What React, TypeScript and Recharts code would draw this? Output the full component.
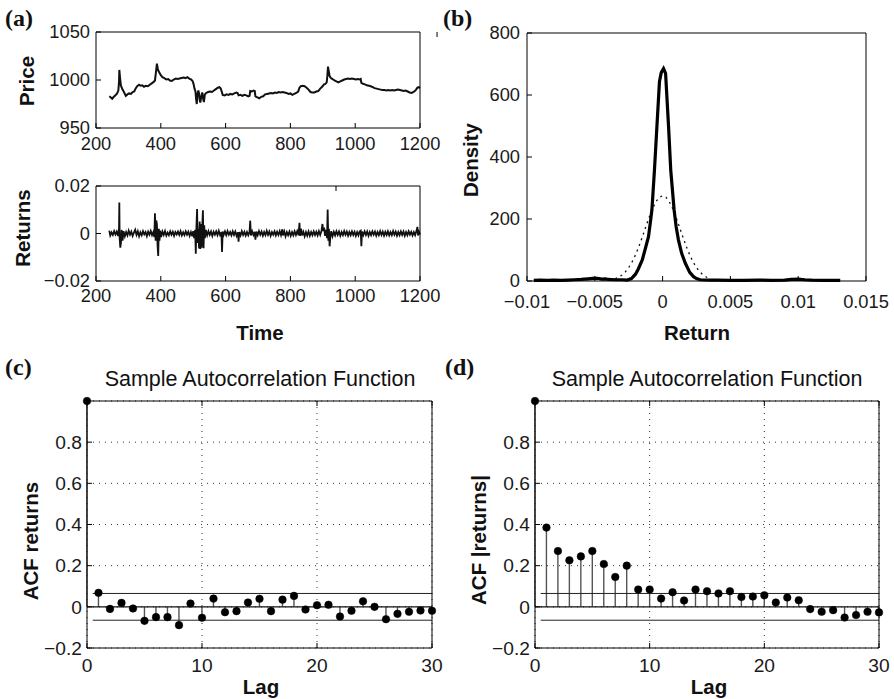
import React from 'react';
import { ComposedChart, Line, Bar, XAxis, YAxis, CartesianGrid, ReferenceLine } from 'recharts';

const FONT = '"Liberation Sans", Arial, Helvetica, sans-serif';
const SERIF = '"Liberation Serif", "Times New Roman", serif';

// ---------- data ----------
const timeTicks = [200, 400, 600, 800, 1000, 1200];
const priceTicks = [950, 1000, 1050];
const returnTicks = [-0.02, 0, 0.02];
const densityXTicks = [-0.01, -0.005, 0, 0.005, 0.01, 0.015];
const densityYTicks = [0, 200, 400, 600, 800];
const lagTicks = [0, 10, 20, 30];
const acfTicks = [-0.2, 0, 0.2, 0.4, 0.6, 0.8];

const priceSeries: [number, number][] = [
  [241, 983], [245, 982], [250, 980.5], [255, 982.5], [260, 984], [265, 986], [269, 989], [271, 998], [272, 1010.5],
  [274, 1003], [277, 994], [282, 990], [287, 987], [292, 983.5], [297, 985], [302, 986], [308, 985.5], [313, 987.5],
  [318, 988], [322, 991], [327, 993.5], [333, 995], [338, 994], [343, 994.5], [348, 993], [354, 994], [360, 993.5],
  [366, 995], [372, 996.5], [378, 998], [382, 999.5], [385, 1008], [388, 1017], [391, 1011], [395, 1008], [400, 1005],
  [405, 1003], [411, 1002], [417, 1000.5], [423, 1001], [428, 999.5], [434, 999], [440, 1000.5], [446, 1001.5],
  [452, 1001], [458, 1001.5], [464, 1002], [470, 1002.5], [476, 1002], [482, 1003], [488, 1001.5], [494, 1000.5],
  [498, 999], [501, 996], [504, 991], [507, 988], [509, 980], [511, 975], [513, 985], [516, 989], [518, 986],
  [520, 979], [522, 976.5], [525, 983], [528, 987], [531, 980], [533, 977], [536, 985], [540, 986.5], [546, 987.5],
  [552, 988], [558, 987.5], [564, 989], [570, 990.5], [576, 992], [581, 992.5], [585, 991], [588, 988], [591, 984.5],
  [597, 984], [603, 985], [609, 984.5], [615, 985.5], [621, 985], [627, 986], [633, 987], [637, 986.5], [640, 984],
  [646, 984.5], [652, 983.5], [658, 984.5], [664, 984], [670, 983], [674, 983.5], [676, 988.5], [681, 988], [686, 989],
  [690, 988.5], [692, 983], [698, 982], [704, 981], [710, 982.5], [716, 983], [722, 985], [728, 985.5], [734, 986],
  [740, 986.5], [746, 986], [752, 987], [758, 986.5], [764, 987.5], [770, 987], [776, 987.5], [782, 987], [788, 986.5],
  [794, 985.5], [800, 986], [806, 984.5], [812, 985.5], [818, 986.5], [824, 988], [828, 992], [832, 993.5], [838, 994],
  [844, 993.5], [850, 992], [856, 990], [862, 987.5], [868, 987], [874, 987], [880, 988], [886, 988.5], [892, 991],
  [898, 993], [904, 995.5], [908, 996], [912, 997.5], [914, 1004], [916, 1014], [918, 1010], [921, 1004], [925, 1002],
  [930, 1001], [936, 999.5], [942, 998.5], [948, 997.5], [954, 998.5], [960, 999.5], [966, 1000.5], [972, 1001],
  [978, 1001.5], [984, 1001], [990, 1001.5], [996, 1001], [1002, 1000.5], [1008, 1001], [1014, 1000.5], [1017, 1001],
  [1019, 997], [1024, 996], [1030, 995.5], [1036, 994.5], [1042, 994], [1048, 993.5], [1054, 992.5], [1060, 991.5],
  [1066, 991], [1072, 990.5], [1078, 990], [1084, 989.5], [1090, 989.5], [1096, 989], [1102, 989.5], [1108, 989],
  [1114, 989.5], [1120, 989], [1126, 989.5], [1132, 990], [1138, 989.5], [1144, 989], [1150, 988.5], [1156, 989],
  [1162, 988], [1168, 987], [1174, 986.5], [1180, 987.5], [1184, 988.5], [1188, 990], [1192, 992], [1196, 992.5],
  [1200, 991.5],
];

const returnSeries: [number, number][] = [
  [241, 0.0012], [244, -0.0008], [248, 0.0005], [252, -0.0006], [256, 0.001], [260, -0.0004], [264, 0.0008],
  [268, -0.001], [271, 0.002], [272, 0.013], [273, -0.002], [275, -0.006], [277, -0.004], [279, 0.0015], [282, -0.003],
  [285, 0.001], [289, -0.0012], [293, 0.0006], [297, -0.0008], [301, 0.0012], [305, -0.0005], [309, 0.0008],
  [313, -0.001], [317, 0.0004], [321, 0.0016], [325, -0.0006], [329, 0.0009], [333, -0.0012], [337, 0.0005],
  [341, -0.0007], [345, 0.001], [349, -0.0004], [353, 0.0006], [357, -0.0011], [361, 0.0008], [365, -0.0005],
  [369, 0.0011], [373, -0.0007], [377, 0.0006], [380, -0.0015], [382, 0.0085], [384, -0.003], [386, 0.0055],
  [388, 0.004], [390, -0.005], [392, -0.0095], [394, 0.002], [396, -0.003], [398, 0.0012], [401, -0.0015],
  [405, 0.0008], [409, -0.0006], [413, 0.001], [417, -0.0009], [421, 0.0004], [425, -0.0007], [429, 0.0009],
  [433, -0.0005], [437, 0.0007], [441, -0.001], [445, 0.0006], [449, -0.0004], [453, 0.0008], [457, -0.0006],
  [461, 0.001], [465, -0.0008], [469, 0.0005], [473, -0.0007], [477, 0.0009], [481, -0.0005], [485, 0.0007],
  [489, -0.001], [493, 0.0006], [497, -0.0012], [500, 0.001], [503, -0.002], [506, 0.0015], [508, -0.0085],
  [510, 0.003], [512, 0.0103], [514, -0.004], [516, 0.002], [518, -0.0063], [520, 0.005], [522, -0.0065],
  [524, 0.004], [526, -0.006], [528, 0.003], [530, 0.0098], [532, -0.0062], [534, 0.0035], [536, -0.002],
  [539, 0.0015], [543, -0.0008], [547, 0.001], [551, -0.0006], [555, 0.0008], [559, -0.001], [563, 0.0007],
  [567, -0.0005], [571, 0.0009], [575, -0.0007], [579, 0.0011], [583, -0.0006], [587, 0.0006], [589, -0.0078],
  [591, 0.0008], [594, -0.0006], [598, 0.0009], [602, -0.0007], [606, 0.001], [610, -0.0005], [614, 0.0006],
  [618, -0.0008], [622, 0.0009], [626, -0.0006], [630, 0.0008], [634, -0.001], [638, 0.0005], [640, -0.0035],
  [642, 0.0006], [646, -0.0008], [650, 0.001], [654, -0.0006], [658, 0.0007], [662, -0.0009], [666, 0.0006],
  [670, -0.0007], [674, 0.0008], [676, 0.0054], [678, -0.0008], [682, 0.0009], [686, -0.0006], [690, 0.0007],
  [692, -0.0026], [695, 0.0008], [699, -0.0007], [703, 0.001], [707, -0.0005], [711, 0.0008], [715, -0.0009],
  [719, 0.0006], [723, -0.0007], [727, 0.0011], [731, -0.0006], [735, 0.0008], [739, -0.001], [743, 0.0006],
  [747, -0.0005], [751, 0.0009], [755, -0.0008], [759, 0.0007], [763, -0.0006], [767, 0.001], [771, -0.0007],
  [775, 0.0018], [777, -0.0008], [781, 0.0009], [785, -0.0012], [789, 0.0006], [793, -0.0007], [797, 0.0008],
  [801, -0.001], [805, 0.0006], [809, -0.0008], [813, 0.0009], [817, -0.0006], [821, 0.001], [825, -0.0007],
  [828, 0.0045], [830, -0.001], [833, 0.002], [836, -0.0008], [840, 0.0007], [844, -0.0012], [848, 0.0006],
  [852, -0.0009], [856, 0.0008], [860, -0.001], [864, 0.0006], [868, -0.0007], [872, 0.0009], [876, -0.0006],
  [880, 0.0007], [884, -0.0008], [888, 0.001], [892, -0.0006], [896, 0.0012], [899, 0.004], [901, 0.001],
  [904, 0.0025], [907, -0.001], [910, 0.0015], [913, -0.002], [915, 0.0101], [917, -0.003], [919, 0.002],
  [921, -0.0054], [923, -0.002], [926, 0.001], [930, -0.0012], [934, 0.0007], [938, -0.0008], [942, 0.0009],
  [946, -0.0006], [950, 0.0008], [954, -0.001], [958, 0.0006], [962, -0.0007], [966, 0.001], [970, -0.0005],
  [974, 0.0008], [978, -0.0009], [982, 0.0006], [986, -0.0007], [990, 0.0009], [994, -0.0006], [998, 0.0007],
  [1002, -0.001], [1006, 0.0006], [1010, -0.0008], [1014, 0.0009], [1017, 0.0012], [1019, -0.0054], [1021, 0.0008],
  [1025, -0.0007], [1029, 0.0009], [1033, -0.0006], [1037, 0.0008], [1041, -0.001], [1045, 0.0006], [1049, -0.0007],
  [1053, 0.0009], [1057, -0.0005], [1061, 0.0008], [1065, -0.0009], [1069, 0.0006], [1073, -0.0007], [1077, 0.001],
  [1081, -0.0006], [1085, 0.0008], [1089, -0.0009], [1093, 0.0007], [1097, -0.0006], [1101, 0.0009], [1105, -0.0008],
  [1109, 0.0006], [1113, -0.0007], [1117, 0.001], [1121, -0.0005], [1125, 0.0008], [1129, -0.0009], [1133, 0.0006],
  [1137, -0.0007], [1141, 0.0009], [1145, -0.0006], [1149, 0.0008], [1153, -0.001], [1157, 0.0006], [1161, -0.0007],
  [1165, 0.0009], [1169, -0.0005], [1173, 0.0007], [1177, -0.0008], [1181, 0.0006], [1185, -0.0007], [1189, 0.001],
  [1192, 0.0028], [1194, -0.0008], [1197, 0.0007], [1200, -0.0004],
];

const densityKernel: [number, number][] = [
  [-0.0095, 2], [-0.009, 3], [-0.0085, 2], [-0.008, 3], [-0.0075, 2], [-0.007, 3], [-0.0065, 4], [-0.006, 5],
  [-0.0055, 7], [-0.005, 9], [-0.0047, 8], [-0.0045, 6], [-0.0042, 7], [-0.004, 5], [-0.0035, 4], [-0.003, 4],
  [-0.0026, 3], [-0.0023, 8], [-0.002, 22], [-0.0018, 38], [-0.0015, 68], [-0.0013, 100], [-0.00104, 143],
  [-0.0009, 190], [-0.00079, 229], [-0.0006, 358], [-0.00042, 498], [-0.00023, 644], [-0.0001, 672], [0.00007, 685],
  [0.00022, 670], [0.00044, 498], [0.0006, 358], [0.00085, 229], [0.001, 175], [0.00117, 132], [0.0014, 90],
  [0.00167, 58], [0.002, 28], [0.00228, 14], [0.0025, 8], [0.00277, 4], [0.0035, 3], [0.004, 3], [0.005, 2],
  [0.006, 2], [0.007, 3], [0.008, 2], [0.009, 3], [0.0095, 5], [0.01, 6], [0.0105, 4], [0.011, 3], [0.012, 2],
  [0.0131, 2],
];

const densityNormal: [number, number][] = [
  [-0.0035, 7.3], [-0.00325, 12.1], [-0.003, 19.2], [-0.00275, 29.3], [-0.0025, 43.3], [-0.00225, 61.5],
  [-0.002, 84.2], [-0.00175, 111.1], [-0.0015, 141.3], [-0.00125, 173.2], [-0.001, 204.6], [-0.00075, 232.8],
  [-0.0005, 255.4], [-0.00025, 270], [0, 275], [0.00025, 270], [0.0005, 255.4], [0.00075, 232.8], [0.001, 204.6],
  [0.00125, 173.2], [0.0015, 141.3], [0.00175, 111.1], [0.002, 84.2], [0.00225, 61.5], [0.0025, 43.3],
  [0.00275, 29.3], [0.003, 19.2], [0.00325, 12.1], [0.0035, 7.3],
];

const acfLags = [0, 1, 2, 3, 4, 5, 6, 7, 8, 9, 10, 11, 12, 13, 14, 15, 16, 17, 18, 19, 20, 21, 22, 23, 24, 25, 26, 27, 28, 29, 30];
const acfReturns = [1, 0.068, -0.01, 0.019, -0.008, -0.068, -0.05, -0.05, -0.089, 0.016, -0.053, 0.04, -0.026, -0.021,
  0.021, 0.039, -0.021, 0.035, 0.053, -0.013, 0.008, 0.01, -0.047, -0.019, 0.027, 0, -0.06, -0.034, -0.024, -0.018, -0.019];
const acfAbsReturns = [1, 0.385, 0.271, 0.226, 0.245, 0.271, 0.208, 0.145, 0.2, 0.084, 0.084, 0.04, 0.071, 0.031,
  0.084, 0.076, 0.065, 0.076, 0.048, 0.05, 0.056, 0.021, 0.045, 0.032, -0.011, -0.024, -0.016, -0.052, -0.04, -0.024, -0.027];
const acfBound = 0.065;

// ---------- tables ----------
const priceData = priceSeries.map(([t, v]) => ({ t, v }));
const returnData = returnSeries.map(([t, v]) => ({ t, v }));
const kernelData = densityKernel.map(([x, y]) => ({ x, y }));
const normalData = densityNormal.map(([x, y]) => ({ x, y }));
const acfRetData = acfLags.map((lag, i) => ({ lag, v: acfReturns[i] }));
const acfAbsData = acfLags.map((lag, i) => ({ lag, v: acfAbsReturns[i] }));

// ---------- helpers ----------
const fmt = (v: number) => (v < 0 ? '\u2212' + String(-v) : String(v));
const NoTick = () => <g />;

const PAD = { left: 72, top: 12, right: 28, bottom: 40 };
type Box = { l: number; t: number; r: number; b: number };

function frame(box: Box) {
  const width = box.r - box.l + PAD.left + PAD.right;
  const height = box.b - box.t + PAD.top + PAD.bottom;
  return {
    style: { position: 'absolute' as const, left: box.l - PAD.left, top: box.t - PAD.top, width, height },
    width,
    height,
    margin: { top: PAD.top, right: PAD.right, bottom: 0, left: 0 },
  };
}

type AxOpts = {
  xKey: string;
  xDomain: [number, number];
  xTicks: number[];
  yDomain: [number, number];
  yTicks: number[];
  fontSize: number;
  xGap: number;
  yGap: number;
  tickLen: number;
};

function boxAxes(o: AxOpts) {
  const tickStyle = { fontSize: o.fontSize, fill: '#1a1a1a', fontFamily: FONT };
  const line = { stroke: '#000', strokeWidth: 1 };
  return [
    <XAxis key="xb" xAxisId="b" dataKey={o.xKey} type="number" domain={o.xDomain} ticks={o.xTicks} interval={0}
      tick={tickStyle} tickFormatter={fmt} tickSize={-o.tickLen} tickMargin={o.tickLen + o.xGap}
      height={PAD.bottom} axisLine={line} tickLine={line} />,
    <XAxis key="xt" xAxisId="t" orientation="top" mirror type="number" domain={o.xDomain} ticks={o.xTicks}
      interval={0} tick={NoTick} tickSize={o.tickLen} axisLine={line} tickLine={line} />,
    <YAxis key="yl" yAxisId="l" type="number" domain={o.yDomain} ticks={o.yTicks} interval={0}
      tick={tickStyle} tickFormatter={fmt} tickSize={-o.tickLen} tickMargin={o.tickLen + o.yGap}
      width={PAD.left} axisLine={line} tickLine={line} />,
    <YAxis key="yr" yAxisId="r" orientation="right" mirror type="number" domain={o.yDomain} ticks={o.yTicks}
      interval={0} tick={NoTick} tickSize={o.tickLen} axisLine={line} tickLine={line} />,
  ];
}

const boxPriceTop: Box = { l: 96, t: 32, r: 420, b: 128 };
const boxReturns: Box = { l: 96, t: 186, r: 420, b: 281 };
const boxDensity: Box = { l: 527, t: 33, r: 866, b: 281 };
const boxAcf1: Box = { l: 87, t: 401, r: 432, b: 648 };
const boxAcf2: Box = { l: 535, t: 401, r: 879, b: 648 };

function AcfChart({ box, data }: { box: Box; data: { lag: number; v: number }[] }) {
  const f = frame(box);
  return (
    <div style={f.style}>
      <ComposedChart width={f.width} height={f.height} margin={f.margin} data={data}>
        <CartesianGrid xAxisId="b" yAxisId="l" stroke="#333" strokeDasharray="1 5" strokeWidth={1} />
        {boxAxes({ xKey: 'lag', xDomain: [0, 30], xTicks: lagTicks, yDomain: [-0.2, 1], yTicks: acfTicks,
          fontSize: 19.2, xGap: 10, yGap: 5, tickLen: 5 })}
        <ReferenceLine xAxisId="b" yAxisId="l" y={0} stroke="#111" strokeWidth={1.2} />
        <ReferenceLine xAxisId="b" yAxisId="l" segment={[{ x: 0.5, y: acfBound }, { x: 30, y: acfBound }]} stroke="#222" strokeWidth={1} />
        <ReferenceLine xAxisId="b" yAxisId="l" segment={[{ x: 0.5, y: -acfBound }, { x: 30, y: -acfBound }]} stroke="#222" strokeWidth={1} />
        <Bar xAxisId="b" yAxisId="l" dataKey="v" barSize={1.4} fill="#555" isAnimationActive={false} />
        <Line xAxisId="b" yAxisId="l" dataKey="v" stroke="none" strokeWidth={0}
          dot={{ r: 3.8, fill: '#000', stroke: '#000', strokeWidth: 0.5 }} activeDot={false} isAnimationActive={false} />
      </ComposedChart>
    </div>
  );
}

type Txt = { text: string; x: number; y: number; size: number; bold?: boolean; serif?: boolean; rotate?: boolean; anchor?: 'start' | 'middle' };
const texts: Txt[] = [
  { text: '(a)', x: 5, y: 26, size: 24, bold: true, serif: true, anchor: 'start' },
  { text: '(b)', x: 443, y: 26, size: 24, bold: true, serif: true, anchor: 'start' },
  { text: '(c)', x: 5, y: 375, size: 24, bold: true, serif: true, anchor: 'start' },
  { text: '(d)', x: 445, y: 375, size: 24, bold: true, serif: true, anchor: 'start' },
  { text: 'Price', x: 26, y: 81, size: 20.5, bold: true, rotate: true },
  { text: 'Returns', x: 22, y: 228, size: 20.5, bold: true, rotate: true },
  { text: 'Time', x: 260, y: 332, size: 20.5, bold: true },
  { text: 'Density', x: 470, y: 160, size: 20.5, bold: true, rotate: true },
  { text: 'Return', x: 697, y: 332, size: 20.5, bold: true },
  { text: 'ACF returns', x: 30, y: 541, size: 20.5, bold: true, rotate: true },
  { text: 'ACF |returns|', x: 478, y: 540, size: 20.5, bold: true, rotate: true },
  { text: 'Lag', x: 261, y: 686, size: 20.5, bold: true },
  { text: 'Lag', x: 709, y: 686, size: 20.5, bold: true },
  { text: 'Sample Autocorrelation Function', x: 260, y: 379, size: 21.5 },
  { text: 'Sample Autocorrelation Function', x: 707, y: 379, size: 21.5 },
];

export default function App() {
  const fp = frame(boxPriceTop);
  const fr = frame(boxReturns);
  const fd = frame(boxDensity);
  return (
    <div style={{ position: 'absolute', left: 0, top: 0, width: 894, height: 699, background: '#fff', fontFamily: FONT }}>
      <div style={fp.style}>
        <ComposedChart width={fp.width} height={fp.height} margin={fp.margin} data={priceData}>
          {boxAxes({ xKey: 't', xDomain: [200, 1200], xTicks: timeTicks, yDomain: [950, 1050], yTicks: priceTicks,
            fontSize: 18.3, xGap: 9, yGap: 6, tickLen: 5 })}
          <Line xAxisId="b" yAxisId="l" dataKey="v" type="linear" stroke="#111" strokeWidth={2} dot={false}
            activeDot={false} isAnimationActive={false} />
        </ComposedChart>
      </div>
      <div style={fr.style}>
        <ComposedChart width={fr.width} height={fr.height} margin={fr.margin} data={returnData}>
          {boxAxes({ xKey: 't', xDomain: [200, 1200], xTicks: timeTicks, yDomain: [-0.02, 0.02], yTicks: returnTicks,
            fontSize: 18.3, xGap: 8, yGap: 6, tickLen: 5 })}
          <Line xAxisId="b" yAxisId="l" dataKey="v" type="linear" stroke="#111" strokeWidth={1.8} dot={false}
            activeDot={false} isAnimationActive={false} />
        </ComposedChart>
      </div>
      <div style={fd.style}>
        <ComposedChart width={fd.width} height={fd.height} margin={fd.margin}>
          {boxAxes({ xKey: 'x', xDomain: [-0.01, 0.015], xTicks: densityXTicks, yDomain: [0, 800], yTicks: densityYTicks,
            fontSize: 18.3, xGap: 14, yGap: 7, tickLen: 5 })}
          <Line xAxisId="b" yAxisId="l" data={normalData} dataKey="y" type="linear" stroke="#111" strokeWidth={1.3}
            strokeDasharray="2 4" dot={false} activeDot={false} isAnimationActive={false} />
          <Line xAxisId="b" yAxisId="l" data={kernelData} dataKey="y" type="linear" stroke="#000" strokeWidth={3.2}
            dot={false} activeDot={false} isAnimationActive={false} />
        </ComposedChart>
      </div>
      <AcfChart box={boxAcf1} data={acfRetData} />
      <AcfChart box={boxAcf2} data={acfAbsData} />
      <svg width={894} height={699} style={{ position: 'absolute', left: 0, top: 0, pointerEvents: 'none' }}>
        {texts.map((t, i) => (
          <text
            key={i}
            x={t.x}
            y={t.y}
            fontSize={t.size}
            fontWeight={t.bold ? 'bold' : 'normal'}
            fontFamily={t.serif ? SERIF : FONT}
            fill="#111"
            textAnchor={t.anchor ?? 'middle'}
            dominantBaseline={t.serif ? 'alphabetic' : 'central'}
            transform={t.rotate ? `rotate(-90 ${t.x} ${t.y})` : undefined}
          >
            {t.text}
          </text>
        ))}
      </svg>
    </div>
  );
}
